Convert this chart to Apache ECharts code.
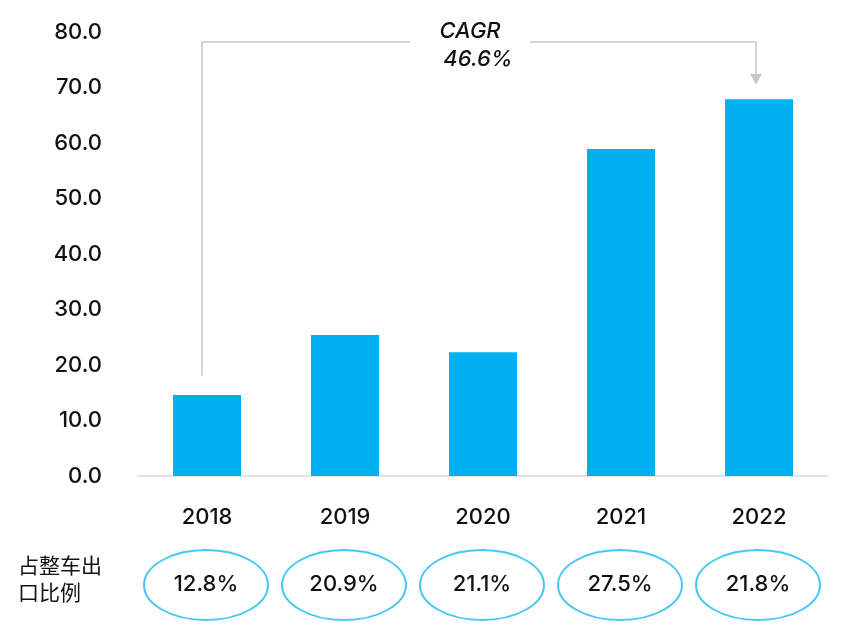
<!DOCTYPE html>
<html><head><meta charset="utf-8">
<script src="https://cdn.jsdelivr.net/npm/echarts@6/dist/echarts.min.js"></script>
<style>html,body{margin:0;padding:0;background:#fff}#c{width:847px;height:630px}</style>
</head><body><div id="c"></div>
<script>
const categories = ['2018','2019','2020','2021','2022'];
const values = [14.6, 25.4, 22.3, 58.9, 67.9];
const shares = ['12.8%','20.9%','21.1%','27.5%','21.8%'];
const yTicks = [0,10,20,30,40,50,60,70,80];
const cagrText = ['CAGR', '46.6%'];
const shareLabel = ['占整车出', '口比例'];

const FONT = 'Inter, "Noto Sans", sans-serif';
const chart = echarts.init(document.getElementById('c'), null, {renderer:'canvas'});
chart.setOption({
  animation:false,
  grid:{left:138,right:19,top:32,bottom:154},
  xAxis:{type:'category',data:categories,
    axisLine:{lineStyle:{color:'#d9d9d9',width:1.5}},axisTick:{show:false},
    axisLabel:{color:'#111',fontSize:22,fontFamily:FONT,fontWeight:500,margin:30}},
  yAxis:{type:'value',min:yTicks[0],max:yTicks[yTicks.length-1],interval:10,
    axisLine:{show:false},axisTick:{show:false},splitLine:{show:false},
    axisLabel:{color:'#111',fontSize:22,fontFamily:FONT,fontWeight:500,margin:36,
      formatter:v=>v.toFixed(1)}},
  series:[{type:'bar',data:values,barWidth:68,itemStyle:{color:'#00b0f0'}}]
});

function draw(){
  const els=[];
  const x0=chart.convertToPixel({xAxisIndex:0},categories[0]);
  const x4=chart.convertToPixel({xAxisIndex:0},categories[4]);
  const yStart=chart.convertToPixel({yAxisIndex:0},values[0]+3.5);
  const yTop=chart.convertToPixel({yAxisIndex:0},78.2);
  const yArrow=chart.convertToPixel({yAxisIndex:0},values[4]+2.6);
  const lx=x0-5, rx=x4-3;
  const gapL=410, gapR=530;
  const ls={stroke:'#c8c8c8',lineWidth:1.5};
  els.push({type:'polyline',shape:{points:[[lx,yStart],[lx,yTop],[gapL,yTop]]},style:Object.assign({fill:null},ls)});
  els.push({type:'polyline',shape:{points:[[gapR,yTop],[rx,yTop],[rx,yArrow-10]]},style:Object.assign({fill:null},ls)});
  els.push({type:'polygon',shape:{points:[[rx-6,yArrow-11],[rx+6,yArrow-11],[rx,yArrow]]},style:{fill:'#c8c8c8'}});
  els.push({type:'text',x:470,y:31,style:{text:cagrText[0],font:'italic 500 22px '+FONT,fill:'#111',align:'center',verticalAlign:'middle'}});
  els.push({type:'text',x:478,y:59,style:{text:cagrText[1],font:'italic 500 22px '+FONT,fill:'#111',align:'center',verticalAlign:'middle'}});
  categories.forEach((c,i)=>{
    const cx=chart.convertToPixel({xAxisIndex:0},c);
    els.push({type:'ellipse',shape:{cx:cx-1,cy:585,rx:62,ry:35},style:{fill:'#fff',stroke:'#45c8f5',lineWidth:2}});
    els.push({type:'text',x:cx-1,y:584,style:{text:shares[i],font:'500 22px '+FONT,fill:'#111',align:'center',verticalAlign:'middle'}});
  });
  els.push({type:'text',x:18,y:565,style:{text:shareLabel[0],font:'21px "Noto Sans CJK SC"',fill:'#111',verticalAlign:'middle'}});
  els.push({type:'text',x:18,y:592,style:{text:shareLabel[1],font:'21px "Noto Sans CJK SC"',fill:'#111',verticalAlign:'middle'}});
  chart.setOption({graphic:{elements:els}});
}
draw();
</script></body></html>
